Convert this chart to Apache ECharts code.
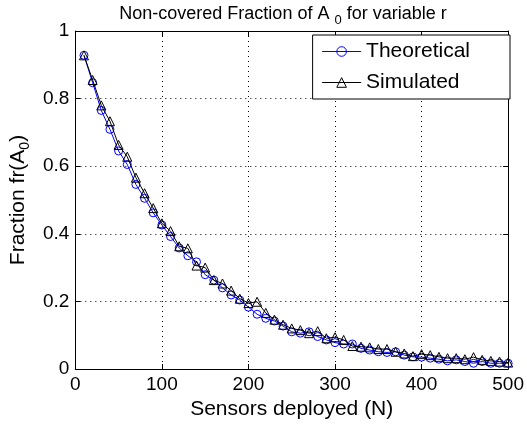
<!DOCTYPE html>
<html>
<head>
<meta charset="utf-8">
<script src="https://cdn.jsdelivr.net/npm/echarts@6/dist/echarts.min.js"></script>
<style>html,body{margin:0;padding:0;background:#fff}#c{width:527px;height:426px}</style>
</head>
<body>
<div id="c"></div>
<script>
const sensors = [10,20,30,40,50,60,70,80,90,100,110,120,130,140,150,160,170,180,190,200,210,220,230,240,250,260,270,280,290,300,310,320,330,340,350,360,370,380,390,400,410,420,430,440,450,460,470,480,490,500];
const theoretical = [0.928,0.847,0.765,0.709,0.645,0.605,0.546,0.505,0.462,0.426,0.392,0.358,0.335,0.317,0.279,0.263,0.240,0.219,0.204,0.183,0.162,0.150,0.142,0.127,0.110,0.106,0.110,0.096,0.086,0.078,0.074,0.074,0.061,0.056,0.051,0.049,0.051,0.041,0.036,0.035,0.032,0.029,0.024,0.027,0.022,0.017,0.022,0.017,0.017,0.017];
const simulated = [0.928,0.855,0.780,0.733,0.663,0.628,0.566,0.520,0.476,0.431,0.408,0.363,0.357,0.306,0.300,0.263,0.253,0.232,0.208,0.195,0.199,0.166,0.146,0.131,0.120,0.115,0.106,0.112,0.091,0.094,0.086,0.068,0.066,0.064,0.059,0.059,0.051,0.046,0.038,0.044,0.041,0.036,0.032,0.032,0.029,0.035,0.027,0.024,0.022,0.019];
const xTicks = [0,100,200,300,400,500];
const yTicks = [0,0.2,0.4,0.6,0.8,1];

const FONT = '"Liberation Sans", Arial, Helvetica, sans-serif';
const chart = echarts.init(document.getElementById('c'), null, {renderer: 'canvas'});
const frameAxis = {
  axisLine: {show: true, onZero: false, lineStyle: {color: '#000', width: 1}},
  axisTick: {show: true, inside: true, length: 5, lineStyle: {color: '#000'}},
  splitLine: {show: false},
  axisLabel: {show: false}
};
chart.setOption({
  animation: false,
  backgroundColor: '#fff',
  title: {
    text: 'Non-covered Fraction of A {sub|0} for variable r',
    left: 278, top: -4, textAlign: 'center',
    textStyle: {
      fontFamily: FONT, fontSize: 18, fontWeight: 'normal', color: '#000',
      rich: {sub: {fontFamily: FONT, fontSize: 13, padding: [13, 0, 0, 0], color: '#000'}}
    }
  },
  legend: {
    orient: 'vertical', right: 17, top: 35,
    padding: [6, 40, 6, 9], itemGap: 10, itemWidth: 39, itemHeight: 12,
    borderColor: '#000', borderWidth: 1, backgroundColor: '#fff',
    textStyle: {fontFamily: FONT, fontSize: 21, color: '#000'},
    lineStyle: {width: 1},
    itemStyle: {borderWidth: 1},
    data: ['Theoretical', 'Simulated']
  },
  grid: {left: 73, right: 16, top: 31, bottom: 57, show: false},
  xAxis: [{
    type: 'value', min: 0, max: 500, interval: 100, position: 'bottom',
    name: 'Sensors deployed (N)', nameLocation: 'middle', nameGap: 23,
    nameTextStyle: {fontFamily: FONT, fontSize: 21, color: '#000'},
    axisLine: {show: true, onZero: false, lineStyle: {color: '#000', width: 1}},
    axisTick: {show: true, inside: true, length: 5, lineStyle: {color: '#000'}},
    axisLabel: {fontFamily: FONT, fontSize: 19, color: '#000', margin: 6,
      formatter: v => xTicks.indexOf(v) >= 0 ? String(v) : ''},
    splitLine: {show: true, lineStyle: {color: '#000', type: [1, 4], width: 1}}
  }, Object.assign({type: 'value', min: 0, max: 500, interval: 100, position: 'top'}, frameAxis)],
  yAxis: [{
    type: 'value', min: 0, max: 1, interval: 0.2, position: 'left',
    name: 'Fraction fr(A{sub|0})', nameLocation: 'middle', nameGap: 39, nameRotate: 90,
    nameTextStyle: {fontFamily: FONT, fontSize: 21, color: '#000',
      rich: {sub: {fontFamily: FONT, fontSize: 14, padding: [13, 0, 0, 0], color: '#000'}}},
    axisLine: {show: true, onZero: false, lineStyle: {color: '#000', width: 1}},
    axisTick: {show: true, inside: true, length: 5, lineStyle: {color: '#000'}},
    axisLabel: {fontFamily: FONT, fontSize: 19, color: '#000', margin: 6,
      formatter: v => { const t = yTicks.find(y => Math.abs(y - v) < 1e-9); return t === undefined ? '' : String(t); }},
    splitLine: {show: true, lineStyle: {color: '#000', type: [1, 4], width: 1}}
  }, Object.assign({type: 'value', min: 0, max: 1, interval: 0.2, position: 'right'}, frameAxis)],
  series: [{
    name: 'Theoretical', type: 'line',
    data: sensors.map((x, i) => [x, theoretical[i]]),
    symbol: 'circle', symbolSize: 8,
    lineStyle: {color: '#0000ff', width: 1},
    itemStyle: {color: 'rgba(255,255,255,0)', borderColor: '#0000ff', borderWidth: 1},
    emphasis: {disabled: true},
    z: 2
  }, {
    name: 'Simulated', type: 'line',
    data: sensors.map((x, i) => [x, simulated[i]]),
    symbol: 'triangle', symbolSize: 9,
    lineStyle: {color: '#000', width: 1},
    itemStyle: {color: 'rgba(255,255,255,0)', borderColor: '#000', borderWidth: 1},
    emphasis: {disabled: true},
    z: 3
  }]
});
</script>
</body>
</html>
